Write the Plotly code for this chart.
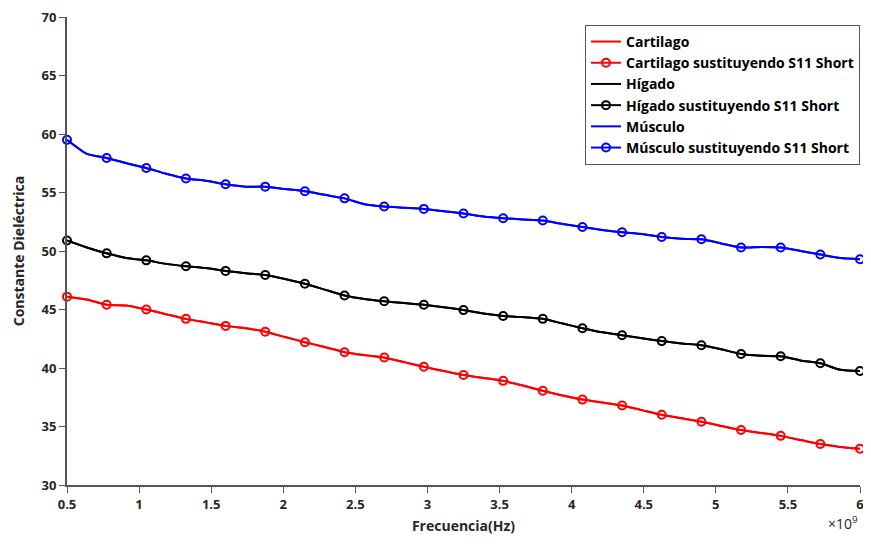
import plotly.graph_objects as go

# Frequency (x 1e9 Hz) at marker positions
freq_markers = [0.5, 0.775, 1.05, 1.325, 1.6, 1.875, 2.15, 2.425, 2.7, 2.975, 3.25,
                3.525, 3.8, 4.075, 4.35, 4.625, 4.9, 5.175, 5.45, 5.725, 6.0]

musculo_s11 = [59.5, 57.95, 57.1, 56.2, 55.7, 55.5, 55.1, 54.5, 53.8, 53.6, 53.2,
               52.8, 52.6, 52.05, 51.6, 51.2, 51.0, 50.3, 50.3, 49.7, 49.3]
higado_s11 = [50.9, 49.8, 49.2, 48.7, 48.3, 47.95, 47.2, 46.2, 45.7, 45.4, 44.95,
              44.45, 44.2, 43.4, 42.8, 42.3, 41.95, 41.2, 41.0, 40.4, 39.75]
cartilago_s11 = [46.1, 45.4, 45.0, 44.2, 43.6, 43.1, 42.2, 41.35, 40.9, 40.1, 39.4,
                 38.9, 38.05, 37.3, 36.8, 36.0, 35.4, 34.7, 34.2, 33.5, 33.1]

# Curves read at midpoints between the markers
freq_mid = [0.6375, 0.9125, 1.1875, 1.4625, 1.7375, 2.0125, 2.2875, 2.5625, 2.8375, 3.1125,
            3.3875, 3.6625, 3.9375, 4.2125, 4.4875, 4.7625, 5.0375, 5.3125, 5.5875, 5.8625]
musculo_mid = [58.3, 57.5, 56.6, 56.0, 55.5, 55.3, 54.8, 54.0, 53.7, 53.4,
               52.95, 52.7, 52.3, 51.8, 51.45, 51.05, 50.65, 50.35, 50.0, 49.4]
higado_mid = [50.3, 49.4, 48.9, 48.55, 48.1, 47.6, 46.7, 45.9, 45.55, 45.2,
              44.65, 44.35, 43.8, 43.05, 42.55, 42.1, 41.6, 41.05, 40.65, 39.85]
cartilago_mid = [45.85, 45.35, 44.6, 43.9, 43.4, 42.65, 41.8, 41.1, 40.5, 39.75,
                 39.15, 38.5, 37.65, 37.05, 36.4, 35.7, 35.05, 34.45, 33.85, 33.25]

x_ticks = [0.5, 1, 1.5, 2, 2.5, 3, 3.5, 4, 4.5, 5, 5.5, 6]
x_tick_labels = ["0.5", "1", "1.5", "2", "2.5", "3", "3.5", "4", "4.5", "5", "5.5", "6"]
y_ticks = [30, 35, 40, 45, 50, 55, 60, 65, 70]


def merge(xa, ya, xb, yb):
    pts = sorted(list(zip(xa, ya)) + list(zip(xb, yb)))
    return [p[0] for p in pts], [p[1] for p in pts]


fig = go.Figure()
series = [
    ("Cartilago", cartilago_s11, cartilago_mid, "#ff0000"),
    ("Hígado", higado_s11, higado_mid, "#000000"),
    ("Músculo", musculo_s11, musculo_mid, "#0000ff"),
]
rank = 1
for name, s11, mid, color in series:
    xs, ys = merge(freq_markers, s11, freq_mid, mid)
    line = dict(color=color, width=2, shape="spline", smoothing=0.6)
    marker = dict(symbol="circle-open", size=8, color=color, line=dict(width=2))
    # plain curve
    fig.add_trace(go.Scatter(
        x=xs, y=ys, mode="lines", name=name, line=line, cliponaxis=False,
        legendrank=rank))
    # curve "sustituyendo S11 Short" (same data) with markers
    fig.add_trace(go.Scatter(
        x=xs, y=ys, mode="lines", line=line, cliponaxis=False,
        showlegend=False, hoverinfo="skip"))
    fig.add_trace(go.Scatter(
        x=freq_markers, y=s11, mode="markers", marker=marker, cliponaxis=False,
        showlegend=False, name=name + " sustituyendo S11 Short"))
    # legend entry for the marker series
    fig.add_trace(go.Scatter(
        x=[None], y=[None], mode="lines+markers",
        name=name + " sustituyendo S11 Short", line=line, marker=marker,
        legendrank=rank + 1))
    rank += 2

font_main = "Open Sans, Calibri, Arial, sans-serif"
fig.update_layout(
    width=855, height=528,
    margin=dict(l=59, r=3, t=9, b=51),
    paper_bgcolor="white", plot_bgcolor="white",
    font=dict(family=font_main, size=13, color="#262626"),
    showlegend=True,
    legend=dict(x=1.0, y=0.983, xanchor="right", yanchor="top",
                bgcolor="white", bordercolor="#555555", borderwidth=1,
                font=dict(size=14, color="#000000", weight="bold"),
                tracegroupgap=0, itemwidth=30, traceorder="normal"),
    xaxis=dict(range=[0.5, 6], tickvals=x_ticks, ticktext=x_tick_labels,
               automargin=False, ticklabeloverflow="allow",
               showgrid=False, zeroline=False, showline=True, linecolor="#555555",
               linewidth=2, ticks="outside", ticklen=6, tickcolor="#555555",
               tickfont=dict(size=13, weight="bold", color="#262626"),
               title=dict(text="Frecuencia(Hz)", standoff=10,
                          font=dict(size=14, weight="bold", color="#262626"))),
    yaxis=dict(range=[30, 70], tickvals=y_ticks,
               automargin=False, ticklabeloverflow="allow",
               showgrid=False, zeroline=False, showline=True, linecolor="#555555",
               linewidth=2, ticks="outside", ticklen=6, tickcolor="#555555",
               tickfont=dict(size=13, weight="bold", color="#262626"),
               title=dict(text="Constante Dieléctrica", standoff=14,
                          font=dict(size=14, weight="bold", color="#262626"))),
)
fig.add_annotation(x=1.0, y=-0.056, xref="paper", yref="paper",
                   text="×10<sup>9</sup>", showarrow=False,
                   xanchor="right", yanchor="top",
                   font=dict(size=14, color="#262626"))

fig.write_html("out.html")
